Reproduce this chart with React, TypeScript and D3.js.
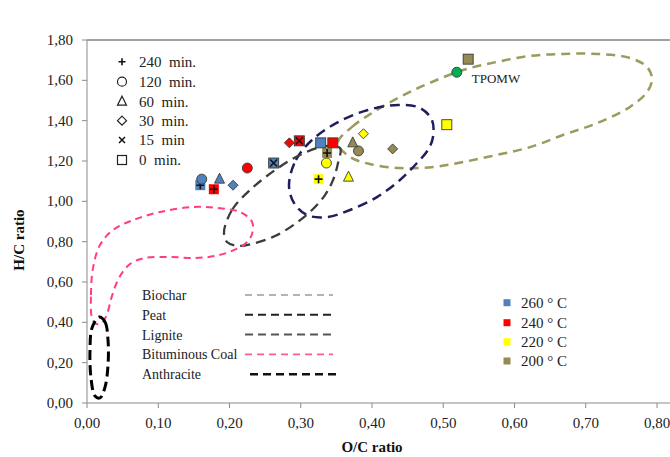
import React from 'react';
import * as d3 from 'd3';

const W = 670;
const H = 457;

const xTicks = [0, 0.1, 0.2, 0.3, 0.4, 0.5, 0.6, 0.7, 0.8];
const yTicks = [0, 0.2, 0.4, 0.6, 0.8, 1.0, 1.2, 1.4, 1.6, 1.8];

const timeLabels = ['240  min.', '120  min.', '60  min.', '30  min.', '15  min', '0  min.'];
const timeSymbols = ['plus', 'circle', 'triangle', 'diamond', 'cross', 'square'];

const tempLabels = ['260 ° C', '240 ° C', '220 ° C', '200 ° C'];
const tempColors = ['#4f81bd', '#ff0000', '#ffff00', '#948a54'];

// 260 °C
const oc260 = [0.159, 0.161, 0.186, 0.205, 0.262, 0.328];
const hc260 = [1.08, 1.11, 1.11, 1.08, 1.19, 1.29];
const sym260 = ['plus', 'circle', 'triangle', 'diamond', 'cross', 'square'];
// 240 °C
const oc240 = [0.178, 0.225, 0.284, 0.298, 0.345];
const hc240 = [1.06, 1.165, 1.29, 1.30, 1.29];
const sym240 = ['plus', 'circle', 'diamond', 'cross', 'square'];
// 220 °C
const oc220 = [0.325, 0.336, 0.367, 0.388, 0.505];
const hc220 = [1.11, 1.19, 1.12, 1.335, 1.38];
const sym220 = ['plus', 'circle', 'triangle', 'diamond', 'square'];
// 200 °C
const oc200 = [0.337, 0.381, 0.373, 0.429, 0.535];
const hc200 = [1.24, 1.25, 1.29, 1.26, 1.705];
const sym200 = ['plus', 'circle', 'triangle', 'diamond', 'square'];

const tpomwOC = [0.519];
const tpomwHC = [1.64];

// Region outlines
const biocharOC = [0.352, 0.372, 0.400, 0.439, 0.481, 0.528, 0.575, 0.622, 0.668, 0.716, 0.762, 0.786, 0.793, 0.786, 0.762, 0.716, 0.668, 0.622, 0.575, 0.528, 0.486, 0.439, 0.397, 0.369];
const biocharHC = [1.289, 1.369, 1.438, 1.517, 1.587, 1.651, 1.691, 1.721, 1.731, 1.731, 1.711, 1.666, 1.607, 1.542, 1.468, 1.388, 1.329, 1.269, 1.230, 1.195, 1.170, 1.165, 1.185, 1.220];

const peatOC = [0.2835, 0.2933, 0.3158, 0.3523, 0.3944, 0.4365, 0.4674, 0.4842, 0.4856, 0.4786, 0.4632, 0.4393, 0.4070, 0.3691, 0.3368, 0.3088, 0.2905];
const peatHC = [1.081, 1.205, 1.304, 1.393, 1.453, 1.478, 1.463, 1.403, 1.319, 1.255, 1.190, 1.106, 1.021, 0.957, 0.922, 0.932, 0.992];

const ligniteOC = [0.1923, 0.2035, 0.2288, 0.2639, 0.2989, 0.3340, 0.3551, 0.3523, 0.3453, 0.3340, 0.3158, 0.2919, 0.2639, 0.2358, 0.2119, 0.1965];
const ligniteHC = [0.848, 0.957, 1.056, 1.155, 1.230, 1.274, 1.264, 1.190, 1.106, 1.031, 0.957, 0.888, 0.828, 0.793, 0.779, 0.798];

const bitumOC = [0.0070, 0.0056, 0.0084, 0.0182, 0.0365, 0.0646, 0.1025, 0.1488, 0.1825, 0.2147, 0.2316, 0.2316, 0.2232, 0.2035, 0.1796, 0.1516, 0.1165, 0.0814, 0.0604, 0.0449, 0.0351, 0.0281, 0.0211, 0.0126];
const bitumHC = [0.421, 0.536, 0.669, 0.783, 0.858, 0.907, 0.947, 0.972, 0.967, 0.947, 0.898, 0.838, 0.793, 0.754, 0.729, 0.719, 0.724, 0.719, 0.689, 0.620, 0.531, 0.441, 0.397, 0.392];

const anthraOC = [0.0168, 0.0253, 0.0295, 0.0295, 0.0253, 0.0182, 0.0112, 0.0056, 0.0042, 0.0070];
const anthraHC = [0.426, 0.402, 0.312, 0.188, 0.079, 0.025, 0.035, 0.124, 0.263, 0.372];

const regionLabels = ['Biochar', 'Peat', 'Lignite', 'Bituminous Coal', 'Anthracite'];
const regionColors = ['#9c9a5c', '#1f1f5f', '#3c3c3c', '#ff3d7f', '#000000'];
const regionLegendColors = ['#9a9a9a', '#222222', '#555555', '#ff5c8f', '#111111'];

const FONT = "'Liberation Serif', 'DejaVu Serif', serif";
const TXT = { fontFamily: FONT } as const;

const x = d3.scaleLinear().domain([0, 0.8]).range([87, 657]);
const y = d3.scaleLinear().domain([0, 1.8]).range([403, 40]);

function Marker({ type, cx, cy, fill, s = 10, hollow = false }: any) {
  const h = s / 2;
  const stroke = hollow ? '#222' : '#3a3a3a';
  const f = hollow ? 'none' : fill;
  const sw = hollow ? 1.2 : 0.9;
  switch (type) {
    case 'square':
      return <rect x={cx - h} y={cy - h} width={s} height={s} fill={f} stroke={stroke} strokeWidth={sw} />;
    case 'circle':
      return <circle cx={cx} cy={cy} r={h} fill={f} stroke={stroke} strokeWidth={sw} />;
    case 'triangle':
      return <path d={`M${cx},${cy - h - 1}L${cx + h},${cy + h - 1}L${cx - h},${cy + h - 1}Z`} fill={f} stroke={stroke} strokeWidth={sw} />;
    case 'diamond':
      return <path d={`M${cx},${cy - h}L${cx + h},${cy}L${cx},${cy + h}L${cx - h},${cy}Z`} fill={f} stroke={stroke} strokeWidth={sw} />;
    case 'plus':
      return (
        <g>
          {!hollow && <rect x={cx - h} y={cy - h} width={s} height={s} fill={fill} stroke="none" />}
          <path d={`M${cx - h + 1},${cy}H${cx + h - 1}M${cx},${cy - h + 1}V${cy + h - 1}`} stroke="#111" strokeWidth={1.6} />
        </g>
      );
    case 'cross':
      return (
        <g>
          {!hollow && <rect x={cx - h} y={cy - h} width={s} height={s} fill={fill} stroke={stroke} strokeWidth={sw} />}
          <path d={`M${cx - h + 1.5},${cy - h + 1.5}L${cx + h - 1.5},${cy + h - 1.5}M${cx + h - 1.5},${cy - h + 1.5}L${cx - h + 1.5},${cy + h - 1.5}`} stroke="#111" strokeWidth={1.5} />
        </g>
      );
    default:
      return null;
  }
}

function outline(oc: number[], hc: number[]) {
  const pts = oc.map((v, i) => [x(v), y(hc[i])] as [number, number]);
  return d3.line().curve(d3.curveCatmullRomClosed.alpha(0.5))(pts) || '';
}

export default function App() {
  const regions = [
    { oc: biocharOC, hc: biocharHC, color: regionColors[0], w: 2.5, dash: '9 6' },
    { oc: peatOC, hc: peatHC, color: regionColors[1], w: 2.5, dash: '10 6' },
    { oc: ligniteOC, hc: ligniteHC, color: regionColors[2], w: 2.3, dash: '10 6' },
    { oc: bitumOC, hc: bitumHC, color: regionColors[3], w: 2, dash: '7 5' },
    { oc: anthraOC, hc: anthraHC, color: regionColors[4], w: 3, dash: '10 5' },
  ];
  const series = [
    { oc: oc200, hc: hc200, sym: sym200, color: tempColors[3] },
    { oc: oc220, hc: hc220, sym: sym220, color: tempColors[2] },
    { oc: oc240, hc: hc240, sym: sym240, color: tempColors[1] },
    { oc: oc260, hc: hc260, sym: sym260, color: tempColors[0] },
  ];
  const legendLineDash = ['7 5', '8 5', '8 5', '7 5', '8 5'];
  const legendLineW = [1.5, 2, 2, 1.6, 2.5];
  return (
    <svg width={W} height={H} style={{ position: 'absolute', left: 0, top: 0, background: '#fff' }}>
      <rect x={0} y={0} width={W} height={H} fill="#fff" />
      {/* frame */}
      <line x1={x(0)} x2={W} y1={y(1.8)} y2={y(1.8)} stroke="#444" strokeWidth={1.2} />
      <line x1={x(0)} x2={x(0)} y1={y(1.8)} y2={y(0)} stroke="#8a8a8a" strokeWidth={1} />
      <line x1={x(0)} x2={W} y1={y(0)} y2={y(0)} stroke="#8a8a8a" strokeWidth={1} />
      {yTicks.map((t) => (
        <g key={'y' + t}>
          <line x1={x(0) - 5} x2={x(0)} y1={y(t)} y2={y(t)} stroke="#8a8a8a" />
          <text x={73} y={y(t) + 5} textAnchor="end" fontSize={15} fill="#222" style={TXT}>
            {d3.format('.2f')(t).replace('.', ',')}
          </text>
        </g>
      ))}
      {xTicks.map((t) => (
        <g key={'x' + t}>
          <line x1={x(t)} x2={x(t)} y1={y(0)} y2={y(0) + 5} stroke="#8a8a8a" />
          <text x={x(t)} y={428} textAnchor="middle" fontSize={15} fill="#222" style={TXT}>
            {d3.format('.2f')(t).replace('.', ',')}
          </text>
        </g>
      ))}
      <text x={372} y={452} textAnchor="middle" fontSize={15} fontWeight="bold" fill="#111" style={TXT}>O/C ratio</text>
      <text transform="translate(24,240) rotate(-90)" textAnchor="middle" fontSize={15} fontWeight="bold" fill="#111" style={TXT}>H/C ratio</text>

      {/* regions */}
      {regions.map((r, i) => (
        <path key={'r' + i} d={outline(r.oc, r.hc)} fill="none" stroke={r.color} strokeWidth={r.w} strokeDasharray={r.dash} />
      ))}

      {/* data points */}
      {series.map((s, si) =>
        s.oc.map((v, i) => (
          <Marker key={'p' + si + '-' + i} type={s.sym[i]} cx={x(v)} cy={y(s.hc[i])} fill={s.color} />
        ))
      )}
      {tpomwOC.map((v, i) => (
        <g key={'tp' + i}>
          <circle cx={x(v)} cy={y(tpomwHC[i])} r={5} fill="#00b050" stroke="#3a3a3a" strokeWidth={0.9} />
          <text x={x(v) + 15} y={y(tpomwHC[i]) + 11} fontSize={13} fill="#222" style={TXT}>TPOMW</text>
        </g>
      ))}

      {/* time legend */}
      {timeLabels.map((l, i) => {
        const yy = [61.7, 81.7, 101.7, 120.7, 140, 160][i];
        return (
          <g key={'tl' + i}>
            <Marker type={timeSymbols[i]} cx={122} cy={yy} s={9} hollow />
            <text x={139} y={yy + 5} fontSize={15} fill="#222" style={{ ...TXT, whiteSpace: 'pre' }}>{l}</text>
          </g>
        );
      })}

      {/* region legend */}
      {regionLabels.map((l, i) => {
        const yy = 295 + i * 19.8;
        return (
          <g key={'rl' + i}>
            <text x={142} y={yy + 5} fontSize={14} fill="#222" style={TXT}>{l}</text>
            <line x1={i === 4 ? 250 : 245} x2={i === 4 ? 337 : 333} y1={yy} y2={yy} stroke={regionLegendColors[i]} strokeWidth={legendLineW[i]} strokeDasharray={legendLineDash[i]} />
          </g>
        );
      })}

      {/* temperature legend */}
      {tempLabels.map((l, i) => {
        const yy = [302.7, 322.7, 341.7, 361][i];
        return (
          <g key={'tc' + i}>
            <rect x={503.5} y={yy - 3.5} width={7} height={7} fill={tempColors[i]} />
            <text x={521} y={yy + 5} fontSize={15} fill="#222" style={TXT}>{l}</text>
          </g>
        );
      })}
    </svg>
  );
}
